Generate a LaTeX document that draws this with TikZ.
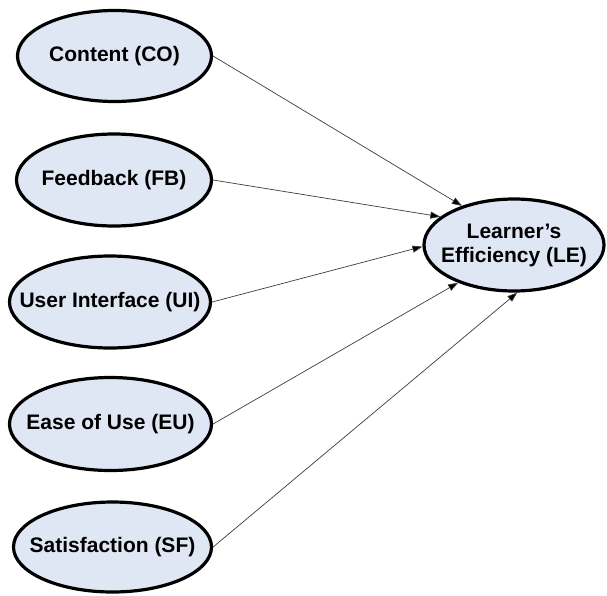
\documentclass[tikz,border=0pt]{standalone}
\usepackage{fontspec}
\setmainfont{Liberation Sans}
\usetikzlibrary{shapes.geometric,arrows.meta}
\definecolor{ellfill}{RGB}{223,231,245}
\definecolor{linegray}{RGB}{60,60,60}
\begin{document}
\begin{tikzpicture}[x=1pt,y=-1pt,
  construct/.style={ellipse,draw=black,line width=3.2pt,fill=ellfill,inner sep=0pt},
  ctext/.style={font=\fontsize{21}{24}\selectfont\bfseries,align=center,inner sep=0pt},
  link/.style={draw=linegray,line width=0.7pt,-{Triangle[length=10pt,width=7pt,fill=black]}}]
\useasboundingbox (0,0) rectangle (607,595);
\node[construct,minimum width=194pt,minimum height=91pt,label={[ctext]center:Content (CO)}] (co) at (114.5,56) {};
\node[construct,minimum width=195pt,minimum height=92pt,label={[ctext]center:Feedback (FB)}] (fb) at (114,180) {};
\node[construct,minimum width=201pt,minimum height=92pt,label={[ctext]center:User Interface (UI)}] (ui) at (110,302) {};
\node[construct,minimum width=202pt,minimum height=93pt,label={[ctext]center:Ease of Use (EU)}] (eu) at (110.5,424) {};
\node[construct,minimum width=198pt,minimum height=90pt,label={[ctext]center:Satisfaction (SF)}] (sf) at (112.5,547) {};
\node[construct,minimum width=180pt,minimum height=92pt,label={[ctext]center:Learner’s\\Efficiency (LE)}] (le) at (514,245) {};
\draw[link] (co.east) -- (le.143);
\draw[link] (fb.east) -- (le.159);
\draw[link] (ui.east) -- (le.181);
\draw[link] (eu.east) -- (le.214);
\draw[link] (sf.east) -- (le.274);
\end{tikzpicture}
\end{document}
